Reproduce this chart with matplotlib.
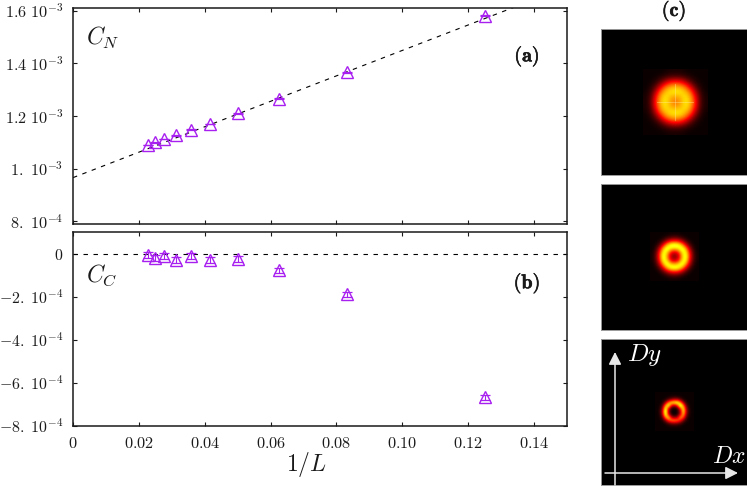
# -*- coding: utf-8 -*-
import numpy as np
import matplotlib
matplotlib.use("Agg")
import matplotlib.pyplot as plt
import matplotlib.patheffects as pe

plt.rcParams['mathtext.fontset'] = 'cm'
plt.rcParams['font.family'] = 'DejaVu Serif'

# system sizes, x axis is 1/L
L = np.array([8, 12, 16, 20, 24, 28, 32, 36, 40, 44])

# panel (a)
c_n = np.array([1.58, 1.366, 1.266, 1.21, 1.17, 1.148, 1.126, 1.112, 1.10, 1.09]) * 1e-3
c_n_err = np.array([2.0, 1.5, 1.5, 1.2, 1.2, 1.2, 1.2, 1.2, 1.2, 1.2]) * 1e-6
fit_intercept = 0.966e-3
fit_slope = 4.83e-3

# panel (b)
c_c = np.array([-6.68, -1.90, -0.79, -0.27, -0.28, -0.11, -0.28, -0.12, -0.23, -0.05]) * 1e-4
c_c_err = np.array([0.12, 0.12, 0.12, 0.14, 0.14, 0.14, 0.14, 0.14, 0.14, 0.14]) * 1e-4

xticks = [0, 0.02, 0.04, 0.06, 0.08, 0.10, 0.12, 0.14]
xticklabels = ['0', '0.02', '0.04', '0.06', '0.08', '0.10', '0.12', '0.14']
yticks_a = [8e-4, 1e-3, 1.2e-3, 1.4e-3, 1.6e-3]
yticklabels_a = [r'8.\ 10^{-4}', r'1.\ 10^{-3}', r'1.2\ 10^{-3}', r'1.4\ 10^{-3}', r'1.6\ 10^{-3}']
yticks_b = [0, -2e-4, -4e-4, -6e-4, -8e-4]
yticklabels_b = ['0', r'-2.\ 10^{-4}', r'-4.\ 10^{-4}', r'-6.\ 10^{-4}', r'-8.\ 10^{-4}']

# panel (c) intensity maps, read by eye on a coarse grid around each blob
map_top = [
    [.00, .00, .00, .00, .01, .02, .02, .02, .01, .00, .00, .00, .00],
    [.00, .00, .01, .03, .06, .09, .10, .09, .06, .03, .01, .00, .00],
    [.00, .01, .04, .12, .25, .36, .40, .36, .25, .12, .04, .01, .00],
    [.00, .03, .12, .32, .52, .62, .65, .62, .52, .32, .12, .03, .00],
    [.01, .06, .25, .52, .66, .72, .73, .72, .66, .52, .25, .06, .01],
    [.02, .09, .36, .62, .72, .64, .60, .64, .72, .62, .36, .09, .02],
    [.02, .10, .40, .65, .73, .60, .52, .60, .73, .65, .40, .10, .02],
    [.02, .09, .36, .62, .72, .64, .60, .64, .72, .62, .36, .09, .02],
    [.01, .06, .25, .52, .66, .72, .73, .72, .66, .52, .25, .06, .01],
    [.00, .03, .12, .32, .52, .62, .65, .62, .52, .32, .12, .03, .00],
    [.00, .01, .04, .12, .25, .36, .40, .36, .25, .12, .04, .01, .00],
    [.00, .00, .01, .03, .06, .09, .10, .09, .06, .03, .01, .00, .00],
    [.00, .00, .00, .00, .01, .02, .02, .02, .01, .00, .00, .00, .00],
]
map_mid = [
    [.00, .00, .00, .00, .00, .01, .01, .01, .00, .00, .00, .00, .00],
    [.00, .00, .00, .02, .06, .10, .13, .10, .06, .02, .00, .00, .00],
    [.00, .00, .03, .12, .28, .42, .46, .42, .28, .12, .03, .00, .00],
    [.00, .02, .12, .36, .66, .84, .88, .84, .66, .36, .12, .02, .00],
    [.00, .06, .28, .66, .86, .70, .62, .70, .86, .66, .28, .06, .00],
    [.01, .10, .40, .80, .70, .36, .26, .36, .70, .80, .40, .10, .01],
    [.01, .12, .44, .84, .62, .26, .16, .26, .62, .84, .44, .12, .01],
    [.01, .10, .38, .80, .70, .36, .26, .36, .70, .80, .38, .10, .01],
    [.00, .06, .26, .62, .84, .70, .62, .70, .84, .62, .26, .06, .00],
    [.00, .02, .12, .34, .62, .80, .84, .80, .62, .34, .12, .02, .00],
    [.00, .00, .03, .12, .26, .38, .42, .38, .26, .12, .03, .00, .00],
    [.00, .00, .00, .02, .06, .10, .12, .10, .06, .02, .00, .00, .00],
    [.00, .00, .00, .00, .00, .01, .01, .01, .00, .00, .00, .00, .00],
]
map_low = [
    [.00, .00, .00, .00, .00, .00, .00, .00, .00, .00, .00, .00, .00],
    [.00, .00, .00, .00, .01, .02, .03, .02, .01, .00, .00, .00, .00],
    [.00, .00, .00, .03, .10, .20, .26, .24, .12, .03, .00, .00, .00],
    [.00, .00, .03, .20, .55, .76, .80, .86, .58, .20, .03, .00, .00],
    [.00, .01, .10, .58, .86, .36, .22, .44, .95, .56, .10, .01, .00],
    [.00, .02, .22, .86, .36, .03, .00, .05, .46, .78, .20, .02, .00],
    [.00, .03, .28, .95, .22, .00, .00, .01, .24, .78, .24, .03, .00],
    [.00, .02, .22, .88, .36, .03, .00, .03, .34, .68, .18, .02, .00],
    [.00, .01, .10, .56, .76, .32, .18, .28, .62, .46, .08, .01, .00],
    [.00, .00, .03, .16, .44, .58, .60, .54, .38, .14, .03, .00, .00],
    [.00, .00, .00, .03, .08, .14, .16, .14, .08, .02, .00, .00, .00],
    [.00, .00, .00, .00, .01, .02, .02, .02, .01, .00, .00, .00, .00],
    [.00, .00, .00, .00, .00, .00, .00, .00, .00, .00, .00, .00, .00],
]

W, H = 747, 486
fig = plt.figure(figsize=(W / 100, H / 100), dpi=100)


def px_axes(x0, y0, x1, y1):
    return fig.add_axes([x0 / W, 1 - y1 / H, (x1 - x0) / W, (y1 - y0) / H])


purple = '#a820f0'
dark = '#1a1a1a'
bold = [pe.withStroke(linewidth=0.4, foreground=dark)]


def style(ax):
    ax.set_xlim(0, 0.15)
    ax.set_xticks(xticks)
    ax.tick_params(direction='in', top=True, right=True, length=3.2, width=0.8,
                   color=dark, pad=7, labelsize=11.7, labelcolor=dark)
    for s in ax.spines.values():
        s.set_linewidth(1.1)
        s.set_color(dark)


def points(ax, y, yerr):
    ax.errorbar(1.0 / L, y, yerr=yerr, fmt='none', ecolor=purple, elinewidth=0.8,
                capsize=3.8, capthick=0.9, zorder=3)
    ax.plot(1.0 / L, y, ls='none', marker='^', ms=9, mfc='none', mec=purple,
            mew=1.0, zorder=4)


# (a)
ax_a = px_axes(73, 8, 567, 224)
style(ax_a)
ax_a.set_ylim(7.9e-4, 1.61e-3)
fit_x = np.array([0, 0.15])
ax_a.plot(fit_x, fit_intercept + fit_slope * fit_x, color='k', lw=0.8, dashes=(4, 5), zorder=2)
points(ax_a, c_n, c_n_err)
ax_a.set_yticks(yticks_a)
ax_a.set_yticklabels(['$%s$' % t for t in yticklabels_a])
ax_a.tick_params(labelbottom=False)
ax_a.text(0.026, 0.83, r'$C_N$', transform=ax_a.transAxes, fontsize=17, color=dark)
ax_a.text(0.919, 0.776, r'$\mathbf{(a)}$', transform=ax_a.transAxes, fontsize=14.5,
          color=dark, ha='center', va='center', path_effects=bold)

# (b)
ax_b = px_axes(73, 232, 567, 425.5)
style(ax_b)
ax_b.set_ylim(-8e-4, 1e-4)
ax_b.axhline(0, color='k', lw=0.8, dashes=(4, 5), zorder=2)
points(ax_b, c_c, c_c_err)
ax_b.set_yticks(yticks_b)
ax_b.set_yticklabels(['$%s$' % t for t in yticklabels_b], fontsize=11.4)
ax_b.set_xticklabels(['$%s$' % t for t in xticklabels])
ax_b.text(0.026, 0.743, r'$C_C$', transform=ax_b.transAxes, fontsize=17, color=dark)
ax_b.text(0.919, 0.735, r'$\mathbf{(b)}$', transform=ax_b.transAxes, fontsize=14.5,
          color=dark, ha='center', va='center', path_effects=bold)
fig.text(306 / W, 1 - 464 / H, r'$1/L$', fontsize=17, ha='center', va='center', color=dark)

# (c)
fig.text(674 / W, 1 - 11 / H, r'$\mathbf{(c)}$', fontsize=14.5, ha='center', va='center',
         color=dark, path_effects=bold)
panels = [
    (29, 175, map_top, 74, 73.5, 5.0),
    (184, 330, map_mid, 73, 73, 3.7),
    (339, 485, map_low, 73, 73, 3.0),
]
axes_c = []
for top, bottom, m, cx, cy, cell in panels:
    ax = px_axes(601, top, 747, bottom)
    ax.set_facecolor('k')
    half = 6.5 * cell
    ax.imshow(np.array(m), cmap='hot', vmin=0, vmax=1, interpolation='bicubic',
              extent=[cx - half, cx + half, cy + half, cy - half], aspect='auto')
    ax.set_xlim(0, 146)
    ax.set_ylim(146, 0)
    ax.set_xticks([])
    ax.set_yticks([])
    for s in ax.spines.values():
        s.set_color('#999999')
        s.set_linewidth(0.7)
    axes_c.append(ax)

# faint grid lines through the top blob
axes_c[0].plot([56, 92], [73.5, 73.5], color='#fff0a0', lw=0.6, alpha=0.45)
axes_c[0].plot([74, 74], [55.5, 91.5], color='#fff0a0', lw=0.6, alpha=0.45)

ax_low = axes_c[2]
arrow = dict(arrowstyle='-|>,head_length=0.75,head_width=0.38', color='#e8e8e8', lw=1.1,
             shrinkA=0, shrinkB=0)
ax_low.annotate('', xy=(14, 13), xytext=(14, 146), arrowprops=arrow)
ax_low.annotate('', xy=(137, 134), xytext=(4, 134), arrowprops=arrow)
ax_low.text(26, 22, r'$Dy$', color='w', fontsize=18, va='baseline')
ax_low.text(111, 124, r'$Dx$', color='w', fontsize=17, va='baseline')

fig.savefig('out.png', dpi=100)
